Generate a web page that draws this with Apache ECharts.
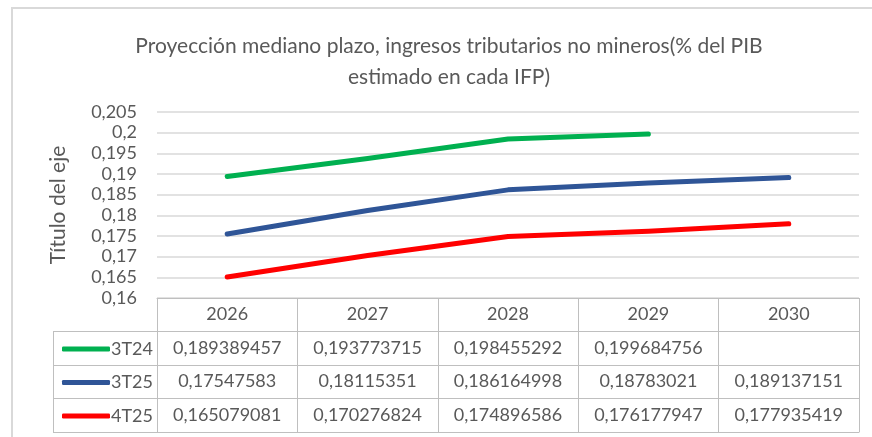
<!DOCTYPE html>
<html>
<head>
<meta charset="utf-8">
<script src="https://cdn.jsdelivr.net/npm/echarts@6/dist/echarts.min.js"></script>
<style>html,body{margin:0;padding:0;background:#fff}#c{width:872px;height:437px}</style>
</head>
<body>
<div id="c"></div>
<script>
const titleText = 'Proyección mediano plazo, ingresos tributarios no mineros(% del PIB\nestimado en cada IFP)';
const yAxisName = 'Título del eje';
const categories = ['2026', '2027', '2028', '2029', '2030'];
const seriesNames = ['3T24', '3T25', '4T25'];
const values3T24 = [0.189389457, 0.193773715, 0.198455292, 0.199684756, null];
const values3T25 = [0.17547583, 0.18115351, 0.186164998, 0.18783021, 0.189137151];
const values4T25 = [0.165079081, 0.170276824, 0.174896586, 0.176177947, 0.177935419];
const seriesColors = ['#00b050', '#2f5597', '#ff0000'];
const yMin = 0.16, yMax = 0.205, yStep = 0.005;

const FONT = 'Lato';
const TXT = '#595959';
const GRID_LINE = '#d9d9d9';
const TABLE_LINE = '#bfbfbf';

const allValues = [values3T24, values3T25, values4T25];
const fmt = v => (v === null || v === undefined) ? '' : String(v).replace('.', ',');

const gridBottomY = 298;
const rowOffsets = [0, 33, 67, 100, 134];
const rowHeights = [33, 34, 33, 34];

const xAxes = [];
xAxes.push({
  type: 'category', data: categories, position: 'bottom', offset: rowOffsets[0], boundaryGap: true,
  axisLine: {show: true, lineStyle: {color: TABLE_LINE, width: 1}},
  axisTick: {show: true, inside: false, length: rowHeights[0], lineStyle: {color: TABLE_LINE}},
  axisLabel: {color: TXT, fontFamily: FONT, fontSize: 18, margin: rowHeights[0] / 2, verticalAlign: 'middle', interval: 0},
  splitLine: {show: false}
});
allValues.forEach((vals, i) => {
  xAxes.push({
    type: 'category', data: vals.map(fmt), position: 'bottom', offset: rowOffsets[i + 1], boundaryGap: true,
    axisLine: {show: true, lineStyle: {color: TABLE_LINE, width: 1}},
    axisTick: {show: true, inside: false, length: rowHeights[i + 1], lineStyle: {color: TABLE_LINE}},
    axisLabel: {color: TXT, fontFamily: FONT, fontSize: 18, margin: rowHeights[i + 1] / 2, verticalAlign: 'middle', interval: 0},
    splitLine: {show: false}
  });
});
xAxes.push({
  type: 'category', data: categories, position: 'bottom', offset: rowOffsets[4], boundaryGap: true,
  axisLine: {show: true, lineStyle: {color: TABLE_LINE, width: 1}},
  axisTick: {show: false}, axisLabel: {show: false}, splitLine: {show: false}
});

const legends = seriesNames.map((n, i) => ({
  data: [n], orient: 'vertical', left: 57,
  top: gridBottomY + rowOffsets[i + 1] + rowHeights[i + 1] / 2 - 13,
  icon: 'roundRect', itemWidth: 48, itemHeight: 5, itemGap: 0,
  textStyle: {color: TXT, fontFamily: FONT, fontSize: 18, padding: [0, 0, 0, -4]}
}));

const leftX = 53, gridLeft = 157;
const tableGraphics = [];
for (let k = 1; k < rowOffsets.length; k++) {
  const y = gridBottomY + rowOffsets[k] + 0.5;
  tableGraphics.push({type: 'line', shape: {x1: leftX, y1: y, x2: gridLeft, y2: y}, style: {stroke: TABLE_LINE, lineWidth: 1}});
}
tableGraphics.push({type: 'line', shape: {x1: leftX + 0.5, y1: gridBottomY + rowOffsets[1], x2: leftX + 0.5, y2: gridBottomY + rowOffsets[4]}, style: {stroke: TABLE_LINE, lineWidth: 1}});
tableGraphics.push({type: 'rect', shape: {x: 12, y: 8, width: 1000, height: 1000}, style: {fill: 'none', stroke: '#d9d9d9', lineWidth: 2}, z: -1});

const chart = echarts.init(document.getElementById('c'), null, {renderer: 'canvas'});
chart.setOption({
  animation: false,
  backgroundColor: '#fff',
  title: {
    text: titleText, left: 444, top: 26, textAlign: 'center',
    textStyle: {color: TXT, fontFamily: FONT, fontSize: 21, fontWeight: 'normal', lineHeight: 31}
  },
  legend: legends,
  grid: {left: gridLeft, right: 13, top: 112, bottom: 437 - gridBottomY, containLabel: false},
  xAxis: xAxes,
  yAxis: {
    type: 'value', min: yMin, max: yMax, interval: yStep,
    name: yAxisName, nameLocation: 'middle', nameGap: 88, nameRotate: 90,
    nameTextStyle: {color: TXT, fontFamily: FONT, fontSize: 21},
    axisLine: {show: false}, axisTick: {show: false},
    axisLabel: {color: TXT, fontFamily: FONT, fontSize: 18, margin: 20, formatter: v => String(+v.toFixed(3)).replace('.', ',')},
    splitLine: {lineStyle: {color: GRID_LINE, width: 1.5}}
  },
  series: seriesNames.map((n, i) => ({
    name: n, type: 'line', xAxisIndex: 0, data: allValues[i], showSymbol: false, symbol: 'none',
    connectNulls: false,
    lineStyle: {color: seriesColors[i], width: 5, cap: 'round', join: 'round'},
    itemStyle: {color: seriesColors[i]}
  })),
  graphic: tableGraphics
});
</script>
</body>
</html>
